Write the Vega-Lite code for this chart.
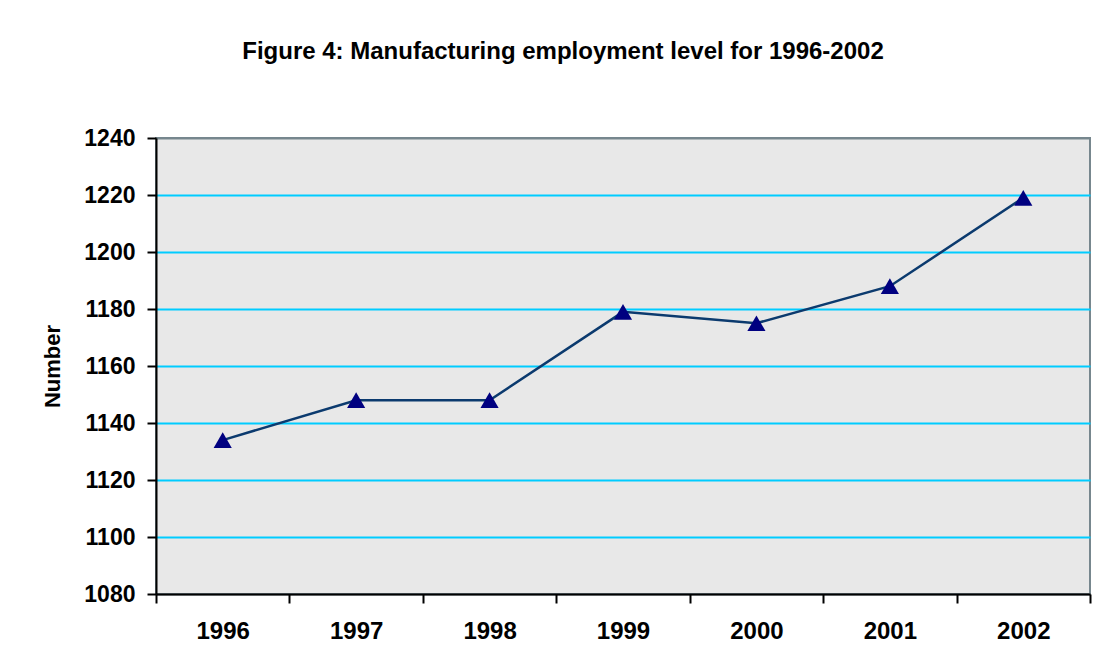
{
  "$schema": "https://vega.github.io/schema/vega-lite/v6.json",
  "width": 934,
  "height": 456,
  "autosize": {"type": "none"},
  "padding": {"left": 156, "top": 138, "right": 8, "bottom": 76},
  "background": "white",
  "title": {
    "text": "Figure 4: Manufacturing employment level for 1996-2002",
    "font": "Liberation Sans",
    "fontSize": 24,
    "fontWeight": "bold",
    "color": "black",
    "anchor": "middle",
    "dx": -60,
    "offset": 44,
    "baseline": "alphabetic"
  },
  "data": {
    "values": [
      {"year": "1996", "value": 1134},
      {"year": "1997", "value": 1148},
      {"year": "1998", "value": 1148},
      {"year": "1999", "value": 1179},
      {"year": "2000", "value": 1175},
      {"year": "2001", "value": 1188},
      {"year": "2002", "value": 1219}
    ]
  },
  "encoding": {
    "x": {
      "field": "year",
      "type": "ordinal",
      "scale": {"type": "band", "paddingInner": 0, "paddingOuter": 0},
      "axis": {
        "title": null,
        "labelAngle": 0,
        "labelFont": "Liberation Sans",
        "labelFontSize": 24,
        "labelFontWeight": "bold",
        "labelColor": "black",
        "labelPadding": 16,
        "domainColor": "black",
        "domainWidth": 2,
        "tickColor": "black",
        "tickWidth": 2,
        "tickSize": 9,
        "tickBand": "extent",
        "grid": false
      }
    },
    "y": {
      "field": "value",
      "type": "quantitative",
      "scale": {"domain": [1080, 1240], "nice": false, "zero": false},
      "axis": {
        "title": "Number",
        "titleFont": "Liberation Sans",
        "titleFontSize": 22,
        "titleFontWeight": "bold",
        "titleColor": "black",
        "titlePadding": 19,
        "values": [1080, 1100, 1120, 1140, 1160, 1180, 1200, 1220, 1240],
        "format": "d",
        "labelFont": "Liberation Sans",
        "labelFontSize": 23,
        "labelFontWeight": "bold",
        "labelColor": "black",
        "labelPadding": 12,
        "domainColor": "black",
        "domainWidth": 2,
        "tickColor": "black",
        "tickWidth": 2,
        "tickSize": 9,
        "grid": true,
        "gridWidth": 2,
        "gridOpacity": 1,
        "gridColor": {"condition": {"test": "datum.value === 1240 || datum.value === 1080", "value": "#77878e"}, "value": "#00ccff"}
      }
    }
  },
  "layer": [
    {"mark": {"type": "line", "color": "#0b3a6e", "strokeWidth": 2.5}},
    {"mark": {"type": "point", "shape": "triangle-up", "filled": true, "color": "#000080", "size": 330, "opacity": 1}}
  ],
  "config": {
    "view": {"fill": "#e8e8e8", "stroke": "#77878e", "strokeWidth": 2}
  }
}
